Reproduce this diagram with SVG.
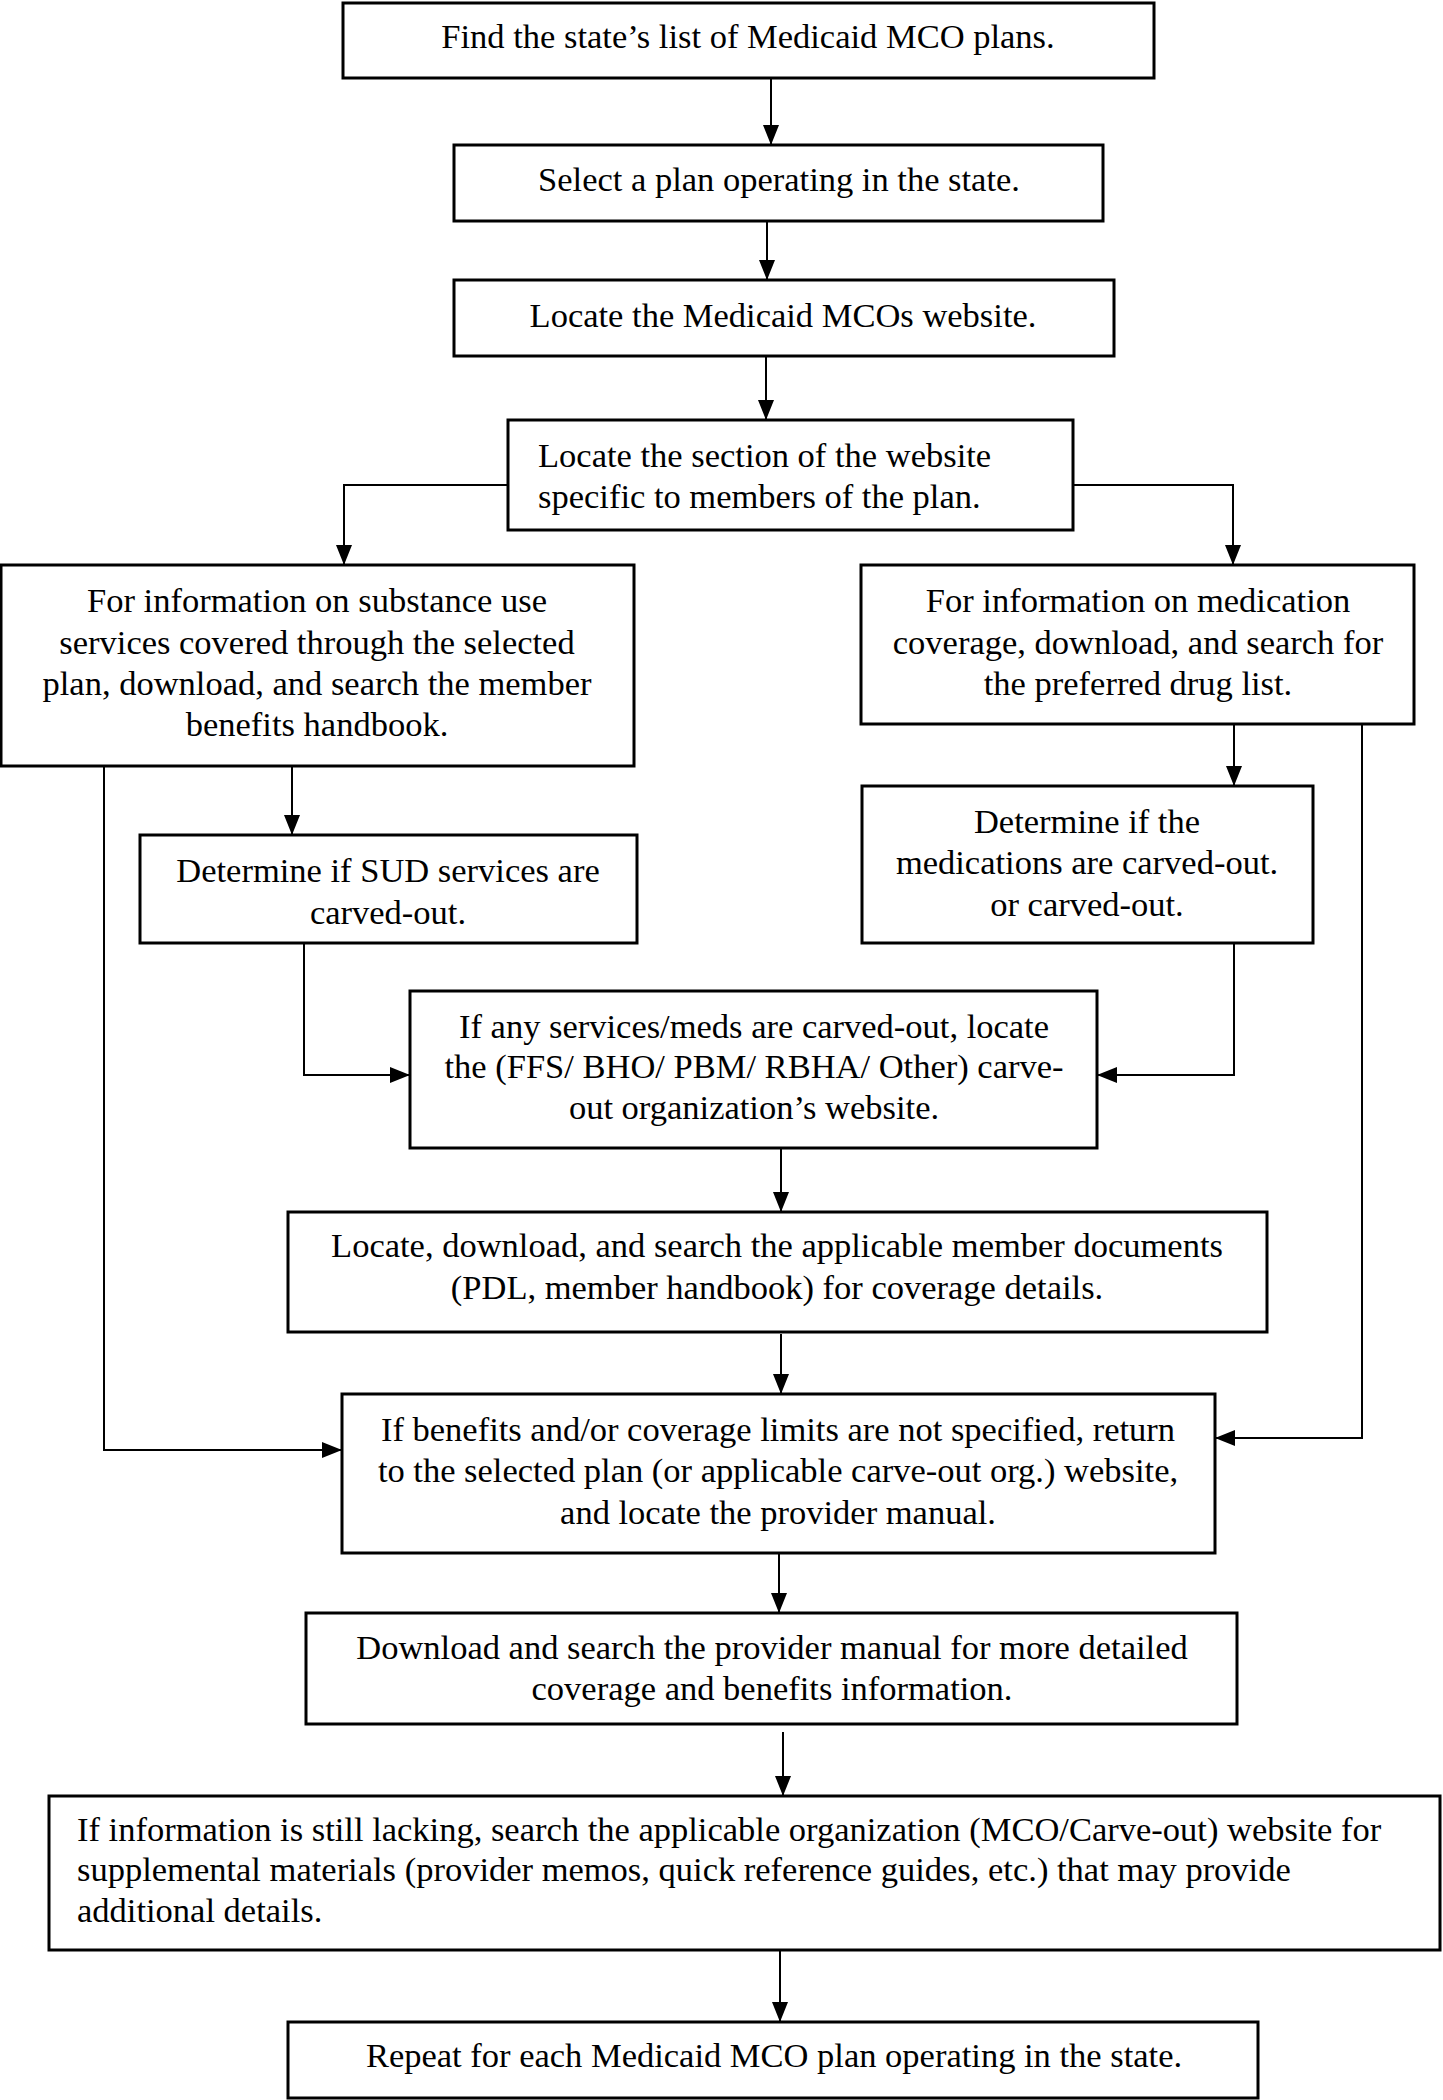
<svg xmlns="http://www.w3.org/2000/svg" width="1443" height="2100" viewBox="0 0 1443 2100">
<style>
.box{fill:#fff;stroke:#000;stroke-width:3}
.t{font-family:"Liberation Serif","Times New Roman",serif;font-size:34.5px;fill:#000}
.c{text-anchor:middle}
.con{fill:none;stroke:#000;stroke-width:2}
</style>
<defs>
<marker id="ah" markerUnits="userSpaceOnUse" markerWidth="20" markerHeight="16" refX="20" refY="8" orient="auto">
<path d="M0,0 L20,8 L0,16 z" fill="#000"/>
</marker>
</defs>
<rect width="1443" height="2100" fill="#fff"/>
<g id="connectors">
<path class="con" d="M771,79 V145" marker-end="url(#ah)"/>
<path class="con" d="M767,222 V280" marker-end="url(#ah)"/>
<path class="con" d="M766,356 V420" marker-end="url(#ah)"/>
<path class="con" d="M508,485 H344 V565" marker-end="url(#ah)"/>
<path class="con" d="M1073,485 H1233 V565" marker-end="url(#ah)"/>
<path class="con" d="M292,766 V835" marker-end="url(#ah)"/>
<path class="con" d="M1234,724 V786" marker-end="url(#ah)"/>
<path class="con" d="M304,943 V1075 H410" marker-end="url(#ah)"/>
<path class="con" d="M1234,943 V1075 H1097" marker-end="url(#ah)"/>
<path class="con" d="M104,766 V1450 H342" marker-end="url(#ah)"/>
<path class="con" d="M1362,724 V1438 H1215" marker-end="url(#ah)"/>
<path class="con" d="M781,1148 V1212" marker-end="url(#ah)"/>
<path class="con" d="M781,1334 V1394" marker-end="url(#ah)"/>
<path class="con" d="M779,1553 V1613" marker-end="url(#ah)"/>
<path class="con" d="M783,1732 V1796" marker-end="url(#ah)"/>
<path class="con" d="M780,1950 V2022" marker-end="url(#ah)"/>
</g>
<g id="n1">
<rect class="box" x="343" y="3" width="811" height="75"/>
<text class="t c" x="748" y="48">Find the state’s list of Medicaid MCO plans.</text>
</g>
<g id="n2">
<rect class="box" x="454" y="145" width="649" height="76"/>
<text class="t c" x="779" y="191">Select a plan operating in the state.</text>
</g>
<g id="n3">
<rect class="box" x="454" y="280" width="660" height="76"/>
<text class="t c" x="783" y="327">Locate the Medicaid MCOs website.</text>
</g>
<g id="n4">
<rect class="box" x="508" y="420" width="565" height="110"/>
<text class="t" x="538" y="467">Locate the section of the website</text>
<text class="t" x="538" y="508">specific to members of the plan.</text>
</g>
<g id="n5">
<rect class="box" x="1" y="565" width="633" height="201"/>
<text class="t c" x="317" y="612">For information on substance use</text>
<text class="t c" x="317" y="654">services covered through the selected</text>
<text class="t c" x="317" y="695">plan, download, and search the member</text>
<text class="t c" x="317" y="736">benefits handbook.</text>
</g>
<g id="n6">
<rect class="box" x="861" y="565" width="553" height="159"/>
<text class="t c" x="1138" y="612">For information on medication</text>
<text class="t c" x="1138" y="654">coverage, download, and search for</text>
<text class="t c" x="1138" y="695">the preferred drug list.</text>
</g>
<g id="n7">
<rect class="box" x="140" y="835" width="497" height="108"/>
<text class="t c" x="388" y="882">Determine if SUD services are</text>
<text class="t c" x="388" y="924">carved-out.</text>
</g>
<g id="n8">
<rect class="box" x="862" y="786" width="451" height="157"/>
<text class="t c" x="1087" y="833">Determine if the</text>
<text class="t c" x="1087" y="874">medications are carved-out.</text>
<text class="t c" x="1087" y="916">or carved-out.</text>
</g>
<g id="n9">
<rect class="box" x="410" y="991" width="687" height="157"/>
<text class="t c" x="754" y="1038">If any services/meds are carved-out, locate</text>
<text class="t c" x="754" y="1078">the (FFS/ BHO/ PBM/ RBHA/ Other) carve-</text>
<text class="t c" x="754" y="1119">out organization’s website.</text>
</g>
<g id="n10">
<rect class="box" x="288" y="1212" width="979" height="120"/>
<text class="t c" x="777" y="1257">Locate, download, and search the applicable member documents</text>
<text class="t c" x="777" y="1299">(PDL, member handbook) for coverage details.</text>
</g>
<g id="n11">
<rect class="box" x="342" y="1394" width="873" height="159"/>
<text class="t c" x="778" y="1441">If benefits and/or coverage limits are not specified, return</text>
<text class="t c" x="778" y="1482">to the selected plan (or applicable carve-out org.) website,</text>
<text class="t c" x="778" y="1524">and locate the provider manual.</text>
</g>
<g id="n12">
<rect class="box" x="306" y="1613" width="931" height="111"/>
<text class="t c" x="772" y="1659">Download and search the provider manual for more detailed</text>
<text class="t c" x="772" y="1700">coverage and benefits information.</text>
</g>
<g id="n13">
<rect class="box" x="49" y="1796" width="1391" height="154"/>
<text class="t" x="77" y="1841">If information is still lacking, search the applicable organization (MCO/Carve-out) website for</text>
<text class="t" x="77" y="1881">supplemental materials (provider memos, quick reference guides, etc.) that may provide</text>
<text class="t" x="77" y="1922">additional details.</text>
</g>
<g id="n14">
<rect class="box" x="288" y="2022" width="970" height="76"/>
<text class="t c" x="774" y="2067">Repeat for each Medicaid MCO plan operating in the state.</text>
</g>
</svg>
